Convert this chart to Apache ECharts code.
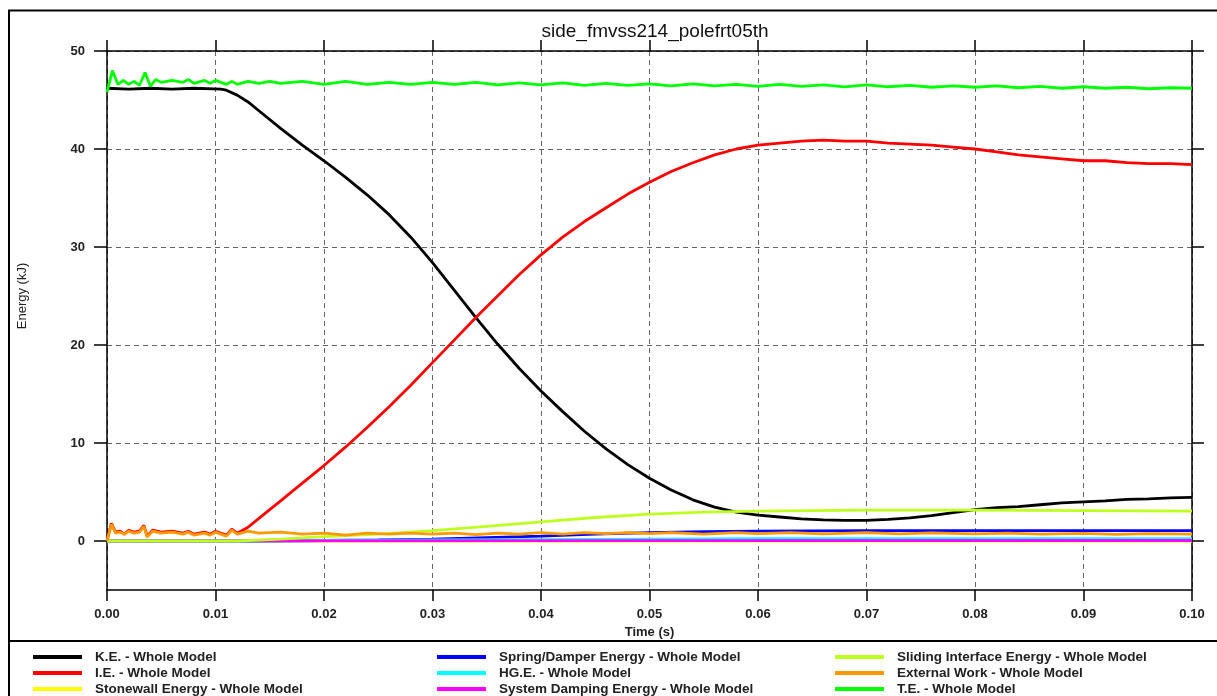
<!DOCTYPE html>
<html>
<head>
<meta charset="utf-8">
<script src="https://cdn.jsdelivr.net/npm/echarts@6/dist/echarts.min.js"></script>
<style>
html,body{margin:0;padding:0;background:#fff;}
#chart{width:1217px;height:696px;}
</style>
</head>
<body>
<div id="chart"></div>
<script>
// ---- data ----
const chartTitle = 'side_fmvss214_polefrt05th';
const xTicks = [0, 0.01, 0.02, 0.03, 0.04, 0.05, 0.06, 0.07, 0.08, 0.09, 0.10];
const yTicks = [0, 10, 20, 30, 40, 50];

const seriesNames = [
  'K.E. - Whole Model', 'I.E. - Whole Model', 'Stonewall Energy - Whole Model',
  'Spring/Damper Energy - Whole Model', 'HG.E. - Whole Model', 'System Damping Energy - Whole Model',
  'Sliding Interface Energy - Whole Model', 'External Work - Whole Model', 'T.E. - Whole Model'
];
const seriesColors = ['#000000', '#ff0000', '#ffff00', '#0000ff', '#00ffff', '#ff00ff', '#bfff1f', '#ff9900', '#00ff00'];

const keData = [[0,46.2],[0.002,46.1],[0.004,46.2],[0.006,46.1],[0.008,46.2],[0.0105,46.1],[0.011,46.0],[0.012,45.5],[0.013,44.8],[0.014,43.9],[0.016,42.1],[0.018,40.4],[0.02,38.8],[0.022,37.1],[0.024,35.3],[0.026,33.3],[0.028,31.0],[0.03,28.4],[0.032,25.6],[0.034,22.8],[0.036,20.1],[0.038,17.6],[0.04,15.3],[0.042,13.2],[0.044,11.2],[0.046,9.4],[0.048,7.8],[0.05,6.4],[0.052,5.2],[0.054,4.2],[0.056,3.45],[0.058,2.95],[0.06,2.65],[0.062,2.45],[0.064,2.25],[0.066,2.15],[0.068,2.1],[0.07,2.1],[0.072,2.2],[0.074,2.35],[0.076,2.6],[0.078,2.9],[0.08,3.2],[0.082,3.4],[0.084,3.5],[0.086,3.7],[0.088,3.9],[0.09,4.0],[0.092,4.1],[0.094,4.25],[0.096,4.3],[0.098,4.4],[0.1,4.45]];
const ieData = [[0,0],[0.0004,1.8],[0.0008,0.9],[0.0012,1.0],[0.0016,0.7],[0.002,1.1],[0.0025,0.9],[0.003,1.0],[0.0034,1.6],[0.0037,0.5],[0.0042,1.1],[0.005,0.9],[0.006,1.0],[0.007,0.8],[0.0075,1.0],[0.008,0.7],[0.009,0.9],[0.0095,0.7],[0.01,1.0],[0.011,0.6],[0.0115,1.2],[0.012,0.8],[0.013,1.4],[0.014,2.3],[0.016,4.1],[0.018,5.9],[0.02,7.7],[0.022,9.6],[0.024,11.6],[0.026,13.7],[0.028,15.9],[0.03,18.2],[0.032,20.5],[0.034,22.8],[0.036,25.0],[0.038,27.2],[0.04,29.2],[0.042,31.0],[0.044,32.6],[0.046,34.0],[0.048,35.4],[0.05,36.6],[0.052,37.7],[0.054,38.6],[0.056,39.4],[0.058,40.0],[0.06,40.4],[0.062,40.6],[0.064,40.8],[0.066,40.9],[0.068,40.8],[0.07,40.8],[0.072,40.6],[0.074,40.5],[0.076,40.4],[0.078,40.2],[0.08,40.0],[0.082,39.7],[0.084,39.4],[0.086,39.2],[0.088,39.0],[0.09,38.8],[0.092,38.8],[0.094,38.6],[0.096,38.5],[0.098,38.5],[0.1,38.4]];
const stonewallData = [[0,0],[0.05,0],[0.1,0]];
const springData = [[0,0],[0.013,0],[0.02,0.05],[0.025,0.1],[0.03,0.2],[0.035,0.35],[0.04,0.5],[0.045,0.7],[0.05,0.85],[0.055,0.95],[0.06,1.0],[0.07,1.05],[0.08,1.05],[0.09,1.05],[0.1,1.05]];
const hgData = [[0,0],[0.013,0],[0.02,0.05],[0.03,0.1],[0.04,0.15],[0.05,0.2],[0.06,0.25],[0.07,0.25],[0.08,0.25],[0.09,0.25],[0.1,0.25]];
const dampData = [[0,0],[0.013,0.02],[0.05,0.04],[0.1,0.05]];
const slidingData = [[0,0],[0.012,0],[0.016,0.2],[0.02,0.45],[0.025,0.7],[0.03,1.05],[0.035,1.5],[0.04,1.95],[0.045,2.4],[0.05,2.75],[0.055,2.95],[0.06,3.05],[0.07,3.15],[0.08,3.15],[0.09,3.1],[0.1,3.05]];
const extData = [[0,0],[0.0004,1.7],[0.0008,0.8],[0.0012,0.9],[0.0016,0.7],[0.002,1.0],[0.0025,0.8],[0.003,0.9],[0.0034,1.5],[0.0037,0.4],[0.0042,1.0],[0.005,0.8],[0.006,0.9],[0.007,0.7],[0.0075,0.9],[0.008,0.6],[0.009,0.8],[0.0095,0.6],[0.01,0.9],[0.011,0.5],[0.0115,1.1],[0.012,0.7],[0.013,1.0],[0.014,0.8],[0.016,0.9],[0.018,0.7],[0.02,0.8],[0.022,0.6],[0.024,0.8],[0.026,0.7],[0.028,0.8],[0.03,0.7],[0.032,0.8],[0.034,0.65],[0.036,0.8],[0.038,0.7],[0.04,0.85],[0.042,0.7],[0.044,0.85],[0.046,0.75],[0.048,0.85],[0.05,0.75],[0.052,0.85],[0.055,0.7],[0.058,0.85],[0.06,0.75],[0.063,0.85],[0.066,0.72],[0.07,0.85],[0.073,0.72],[0.076,0.82],[0.08,0.72],[0.083,0.8],[0.086,0.7],[0.09,0.78],[0.093,0.68],[0.096,0.75],[0.1,0.7]];
const teData = [[0,45.8],[0.0005,48.0],[0.001,46.6],[0.0015,47.0],[0.002,46.6],[0.0025,46.9],[0.003,46.5],[0.0035,47.8],[0.004,46.4],[0.0045,47.1],[0.005,46.8],[0.006,47.0],[0.007,46.8],[0.0075,47.1],[0.008,46.7],[0.009,47.0],[0.0095,46.7],[0.01,47.0],[0.011,46.6],[0.0115,46.9],[0.012,46.6],[0.013,46.9],[0.014,46.7],[0.015,46.9],[0.016,46.7],[0.018,46.9],[0.02,46.6],[0.022,46.9],[0.024,46.6],[0.026,46.8],[0.028,46.6],[0.03,46.8],[0.032,46.6],[0.034,46.8],[0.036,46.55],[0.038,46.75],[0.04,46.55],[0.042,46.75],[0.044,46.5],[0.046,46.7],[0.048,46.5],[0.05,46.65],[0.052,46.45],[0.054,46.65],[0.056,46.45],[0.058,46.6],[0.06,46.4],[0.062,46.6],[0.064,46.4],[0.066,46.55],[0.068,46.35],[0.07,46.55],[0.072,46.35],[0.074,46.5],[0.076,46.3],[0.078,46.45],[0.08,46.3],[0.082,46.45],[0.084,46.25],[0.086,46.4],[0.088,46.2],[0.09,46.35],[0.092,46.2],[0.094,46.3],[0.096,46.15],[0.098,46.25],[0.1,46.2]];

const allData = [keData, ieData, stonewallData, springData, hgData, dampData, slidingData, extData, teData];

// ---- chart ----
const FONT = 'Liberation Sans, Arial, sans-serif';
const chart = echarts.init(document.getElementById('chart'), null, {renderer: 'canvas'});
const dash = {color: '#666', width: 1, type: [5, 4]};

const legends = [0, 1, 2].map(col => ({
  orient: 'vertical',
  left: [33, 437, 835][col],
  top: 649,
  height: 80,
  padding: 0,
  itemWidth: 49,
  itemHeight: 4,
  itemGap: 0,
  icon: 'rect',
  data: seriesNames.slice(col * 3, col * 3 + 3),
  textStyle: {fontFamily: FONT, fontSize: 13.5, fontWeight: 'bold', color: '#222', lineHeight: 16, padding: [0, 0, 0, 8]},
  selectedMode: false
}));

const option = {
  animation: false,
  backgroundColor: '#ffffff',
  title: {
    text: chartTitle, left: 650, top: 17, textAlign: 'center',
    textStyle: {fontFamily: FONT, fontSize: 19, fontWeight: 'normal', color: '#111'}
  },
  legend: legends,
  grid: [
    {left: 107, top: 51, width: 1085, height: 539},
    {left: 107, top: 51, width: 1085, height: 490}
  ],
  xAxis: [
    {
      type: 'value', gridIndex: 0, min: 0, max: 0.1, interval: 0.01, position: 'bottom',
      axisLine: {show: true, onZero: false, lineStyle: {color: '#000', width: 1.5}},
      axisTick: {show: true, inside: false, length: 11, lineStyle: {color: '#000', width: 1.5}},
      axisLabel: {margin: 18, fontFamily: FONT, fontSize: 13, fontWeight: 'bold', color: '#222',
        formatter: v => v.toFixed(2)},
      splitLine: {show: true, lineStyle: dash},
      name: 'Time (s)', nameLocation: 'middle', nameGap: 35,
      nameTextStyle: {fontFamily: FONT, fontSize: 13, fontWeight: 'bold', color: '#222'}
    },
    {
      type: 'value', gridIndex: 0, min: 0, max: 0.1, interval: 0.01, position: 'top',
      axisLine: {show: true, onZero: false, lineStyle: {color: '#000', width: 1.5}},
      axisTick: {show: true, inside: false, length: 11, lineStyle: {color: '#000', width: 1.5}},
      axisLabel: {show: false}, splitLine: {show: false}
    },
    {type: 'value', gridIndex: 1, min: 0, max: 0.1, show: false}
  ],
  yAxis: [
    {
      type: 'value', gridIndex: 0, min: -5, max: 50, position: 'left',
      axisLine: {show: true, onZero: false, lineStyle: {color: '#000', width: 1.5}},
      axisTick: {show: false}, axisLabel: {show: false}, splitLine: {show: false}
    },
    {
      type: 'value', gridIndex: 0, min: -5, max: 50, position: 'right',
      axisLine: {show: true, onZero: false, lineStyle: {color: '#000', width: 1.5}},
      axisTick: {show: false}, axisLabel: {show: false}, splitLine: {show: false}
    },
    {
      type: 'value', gridIndex: 1, min: 0, max: 50, interval: 10, position: 'left',
      axisLine: {show: false},
      axisTick: {show: true, inside: false, length: 13, lineStyle: {color: '#000', width: 1.5}},
      axisLabel: {margin: 22, fontFamily: FONT, fontSize: 13, fontWeight: 'bold', color: '#222'},
      splitLine: {show: true, lineStyle: dash},
      name: 'Energy (kJ)', nameLocation: 'middle', nameGap: 78, nameRotate: 90,
      nameTextStyle: {fontFamily: FONT, fontSize: 13, color: '#222'}
    },
    {
      type: 'value', gridIndex: 1, min: 0, max: 50, interval: 10, position: 'right',
      axisLine: {show: false},
      axisTick: {show: true, inside: false, length: 12, lineStyle: {color: '#000', width: 1.5}},
      axisLabel: {show: false}, splitLine: {show: false}
    }
  ],
  series: allData.map((d, i) => ({
    name: seriesNames[i],
    type: 'line',
    xAxisIndex: 0, yAxisIndex: 0,
    data: d,
    showSymbol: false,
    symbol: 'none',
    color: seriesColors[i],
    lineStyle: {width: 2.8, color: seriesColors[i]},
    z: 3 + i
  })),
  graphic: [
    {type: 'polyline', shape: {points: [[9, 700], [9, 10.5], [1220, 10.5]]}, style: {stroke: '#000', lineWidth: 2, fill: null}, silent: true},
    {type: 'line', shape: {x1: 9, y1: 641, x2: 1220, y2: 641}, style: {stroke: '#000', lineWidth: 2}, silent: true}
  ]
};
chart.setOption(option);
</script>
</body>
</html>
